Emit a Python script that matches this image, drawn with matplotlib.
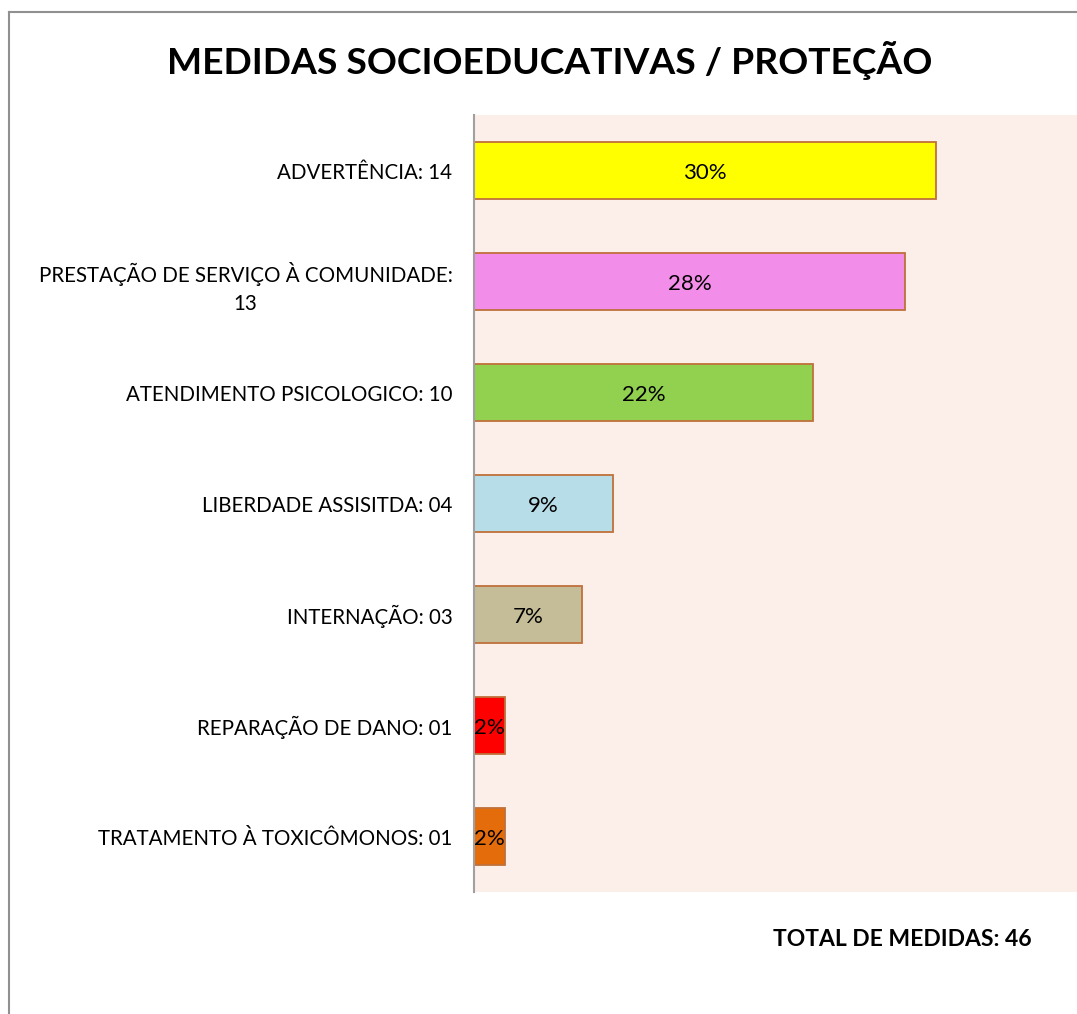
import matplotlib
matplotlib.use("Agg")
import matplotlib.pyplot as plt
from matplotlib.lines import Line2D

categories = [
    "ADVERTÊNCIA: 14",
    "PRESTAÇÃO DE SERVIÇO À COMUNIDADE:\n13",
    "ATENDIMENTO PSICOLOGICO: 10",
    "LIBERDADE ASSISITDA: 04",
    "INTERNAÇÃO: 03",
    "REPARAÇÃO DE DANO: 01",
    "TRATAMENTO À TOXICÔMONOS: 01",
]
percents = [30, 28, 22, 9, 7, 2, 2]
bar_colors = ["#FFFF00", "#F28EEA", "#92D050", "#B7DDE8", "#C4BD97", "#FF0000", "#E46C0A"]
title = "MEDIDAS SOCIOEDUCATIVAS / PROTEÇÃO"
total_text = "TOTAL DE MEDIDAS: 46"

plt.rcParams['font.family'] = ['Lato', 'DejaVu Sans']

W, H = 1077, 1014
fig = plt.figure(figsize=(W / 100, H / 100), dpi=100)
fig.patch.set_facecolor("white")

# axes: x from 474 to 1090 px (beyond right edge), y from 115 to 892 px
left = 474 / W
right = 1090 / W
top = 1 - 115 / H
bottom = 1 - 892 / H
ax = fig.add_axes([left, bottom, right - left, top - bottom])
ax.set_facecolor("#FCEEE9")

n = len(categories)
ypos = list(range(n))
ax.barh(ypos, percents, height=0.51, color=bar_colors, edgecolor="#C0703A", linewidth=1.3)
ax.set_xlim(0, 40)
ax.set_ylim(n - 0.5, -0.5)
ax.set_yticks(ypos)
ax.set_yticklabels(categories, fontsize=14.8, ha="right", multialignment="center", linespacing=1.5)
ax.tick_params(axis="y", length=0, pad=15.5)
ax.set_xticks([])
for s in ["top", "right", "bottom"]:
    ax.spines[s].set_visible(False)
ax.spines["left"].set_color("#A0A0A0")
ax.spines["left"].set_linewidth(1.5)

for y, p in zip(ypos, percents):
    ax.text(p / 2, y + 0.02, f"{p}%", ha="center", va="center", fontsize=16, color="black")

fig.text(550 / W, 1 - 60 / H, title, ha="center", va="center", fontsize=26.8, fontweight="bold")
fig.text(1032 / W, 1 - 940 / H, total_text, ha="right", va="center", fontsize=16.5, fontweight="bold")

# outer border (left and top edges visible)
fig.add_artist(Line2D([9 / W, 9 / W], [0, 1 - 12 / H], transform=fig.transFigure, color="#909090", lw=1.5))
fig.add_artist(Line2D([9 / W, 1], [1 - 12 / H, 1 - 12 / H], transform=fig.transFigure, color="#909090", lw=1.5))

fig.savefig("out.png", dpi=100)
